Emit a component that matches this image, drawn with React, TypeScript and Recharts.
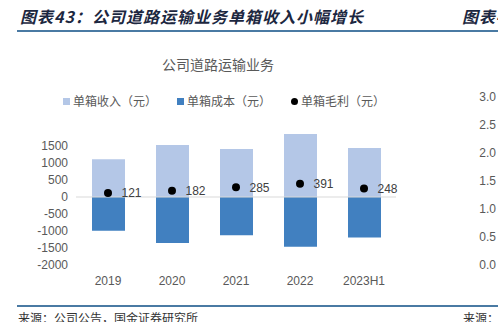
import React from 'react';
import {
  ComposedChart, Bar, Scatter, XAxis, YAxis, ReferenceLine, LabelList,
} from 'recharts';

const years = ['2019', '2020', '2021', '2022', '2023H1'];
const income = [1110, 1530, 1410, 1850, 1440];
const cost = [-990, -1350, -1125, -1460, -1190];
const profit = [121, 182, 285, 391, 248];
const yTicks = [-2000, -1500, -1000, -500, 0, 500, 1000, 1500];
const rightTicks = [0, 0.5, 1, 1.5, 2, 2.5, 3];

const seriesNames = { income: '单箱收入（元）', cost: '单箱成本（元）', profit: '单箱毛利（元）' };
const colors = { income: '#b4c7e7', cost: '#4180c0', profit: '#000000' };

const data = years.map((y, i) => ({ year: y, income: income[i], cost: cost[i], profit: profit[i] }));
const fragmentData = [{ k: '' }];

const NUM_FONT = '"Liberation Sans", Arial, sans-serif';
const CJK_FONT = '"Noto Sans CJK SC", "Liberation Sans", sans-serif';

const Dot = (props: any) => <circle cx={props.cx} cy={props.cy} r={4} fill="#000" />;

export default function App() {
  const legend = [
    { key: 'income', icon: 'square' },
    { key: 'cost', icon: 'square' },
    { key: 'profit', icon: 'dot' },
  ] as const;
  return (
    <div style={{ position: 'absolute', left: 0, top: 0, width: 498, height: 322, overflow: 'hidden', background: '#fff' }}>
      {/* header */}
      <div style={{ position: 'absolute', left: 20, top: 6, fontFamily: CJK_FONT, fontSize: 16, fontWeight: 700, fontStyle: 'italic', color: '#1c2740', letterSpacing: 1, whiteSpace: 'nowrap', lineHeight: '20px' }}>
        图表43：公司道路运输业务单箱收入小幅增长
      </div>
      <div style={{ position: 'absolute', left: 462, top: 6, fontFamily: CJK_FONT, fontSize: 16, fontWeight: 700, fontStyle: 'italic', color: '#1c2740', letterSpacing: 1, whiteSpace: 'nowrap', lineHeight: '20px' }}>
        图表44
      </div>
      <div style={{ position: 'absolute', left: 17, top: 30, width: 481, height: 2, background: '#4a7aa3' }} />

      {/* chart title */}
      <div style={{ position: 'absolute', left: 0, width: 436, top: 55, textAlign: 'center', fontFamily: CJK_FONT, fontSize: 14, color: '#595959', lineHeight: '18px' }}>
        公司道路运输业务
      </div>

      {/* legend */}
      <div style={{ position: 'absolute', left: 63, top: 93, display: 'flex', alignItems: 'center', fontFamily: CJK_FONT, fontSize: 12, color: '#595959', lineHeight: '16px', whiteSpace: 'nowrap' }}>
        {legend.map((l, i) => (
          <div key={l.key} style={{ display: 'flex', alignItems: 'center', marginRight: i < 2 ? 20 : 0 }}>
            {l.icon === 'square' ? (
              <span style={{ display: 'inline-block', width: 7, height: 7, background: colors[l.key], marginRight: 3 }} />
            ) : (
              <span style={{ display: 'inline-block', width: 7, height: 7, borderRadius: '50%', background: colors[l.key], marginRight: 3 }} />
            )}
            <span>{seriesNames[l.key]}</span>
          </div>
        ))}
      </div>

      {/* main chart */}
      <div style={{ position: 'absolute', left: 0, top: 0 }}>
        <ComposedChart width={498} height={322} data={data} stackOffset="sign"
          margin={{ top: 129, right: 102, bottom: 27, left: 0 }}>
          <XAxis dataKey="year" axisLine={false} tickLine={false} height={30} tickMargin={5}
            tick={{ fontSize: 12, fill: '#595959', fontFamily: NUM_FONT }} />
          <YAxis width={76} domain={[-2000, 2000]} ticks={yTicks} axisLine={false} tickLine={false}
            interval={0} tick={{ fontSize: 12, fill: '#595959', fontFamily: NUM_FONT }} />
          <Bar dataKey="income" name={seriesNames.income} stackId="a" fill={colors.income} barSize={33} isAnimationActive={false} />
          <Bar dataKey="cost" name={seriesNames.cost} stackId="a" fill={colors.cost} barSize={33} isAnimationActive={false} />
          <ReferenceLine y={0} stroke="#d9d9d9" strokeWidth={1} />
          <Scatter dataKey="profit" name={seriesNames.profit} fill={colors.profit} shape={Dot} isAnimationActive={false}>
            <LabelList dataKey="profit" position="right" offset={9} fill="#404040" fontSize={12} fontFamily={NUM_FONT} />
          </Scatter>
        </ComposedChart>
      </div>

      {/* neighbouring chart axis fragment */}
      <div style={{ position: 'absolute', left: 440, top: 0 }}>
        <ComposedChart width={66} height={322} data={fragmentData} margin={{ top: 97, right: 2, bottom: 57, left: 0 }}>
          <XAxis dataKey="k" hide />
          <YAxis width={64} type="number" domain={[0, 3]} ticks={rightTicks} interval={0} axisLine={false} tickLine={false}
            allowDataOverflow
            tickFormatter={(v: number) => v.toFixed(1)}
            tick={{ fontSize: 12, fill: '#595959', fontFamily: NUM_FONT }} />
        </ComposedChart>
      </div>

      {/* footer */}
      <div style={{ position: 'absolute', left: 17, top: 305, width: 481, height: 2, background: '#4a7aa3' }} />
      <div style={{ position: 'absolute', left: 18, top: 310, fontFamily: CJK_FONT, fontSize: 12, color: '#333', whiteSpace: 'nowrap', lineHeight: '16px' }}>
        来源：公司公告，国金证券研究所
      </div>
      <div style={{ position: 'absolute', left: 463, top: 310, fontFamily: CJK_FONT, fontSize: 12, color: '#333', whiteSpace: 'nowrap', lineHeight: '16px' }}>
        来源：
      </div>
    </div>
  );
}
